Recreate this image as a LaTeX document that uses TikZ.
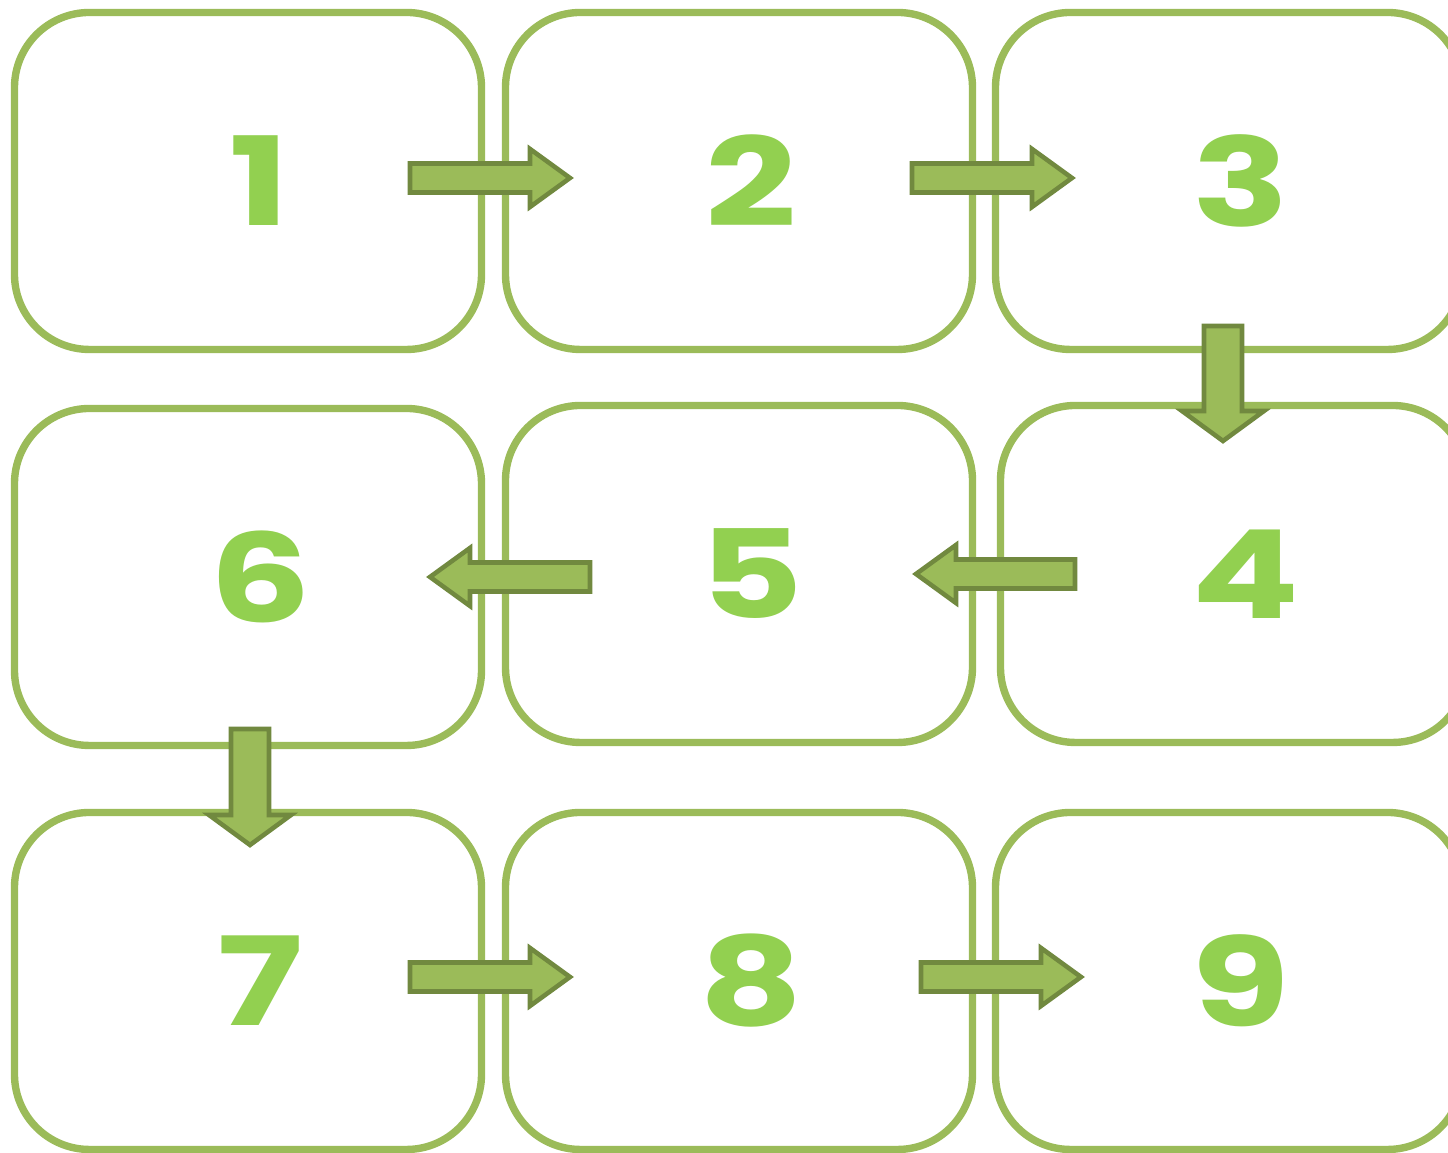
\documentclass[tikz,border=0pt]{standalone}
\usepackage{fontspec}
\setmainfont{Poppins}
\usepackage{tikz}
\usetikzlibrary{positioning, calc}

\definecolor{boxgreen}{HTML}{9BBB59}
\definecolor{arrowedge}{HTML}{71893F}
\definecolor{numgreen}{HTML}{92D050}

\tikzset{
  stepbox/.style={rectangle, draw=boxgreen, line width=2.1pt, rounded corners=0.75cm,
    minimum width=4.67cm, minimum height=3.37cm, outer sep=0pt, fill=white,
    font=\fontsize{35}{38}\selectfont\bfseries, text=numgreen},
  flow/.style={fill=boxgreen, draw=arrowedge, line width=1.3pt, line join=miter}
}

\newcommand{\stepnum}[1]{\hspace{0.24cm}\scalebox{1.3}[1]{#1}}

% block arrow: shaft half width, head half width, head length, from, to
\newcommand{\flowarrow}[5]{%
  \coordinate (hb) at ($(#5)!#3!(#4)$);
  \draw[flow] ($(#4)!#1!90:(#5)$) -- ($(hb)!#1!90:(#5)$) -- ($(hb)!#2!90:(#5)$)
    -- (#5) -- ($(hb)!#2!-90:(#5)$) -- ($(hb)!#1!-90:(#5)$) -- ($(#4)!#1!-90:(#5)$) -- cycle;}

\begin{document}
\begin{tikzpicture}[node distance=0.24cm]

\useasboundingbox (0,0) rectangle (14.48,11.53);
\clip (0,0) rectangle (14.48,11.53);

% Define nodes
\node[stepbox] (b1) at (2.48,9.72) {\stepnum{1}};
\node[stepbox, right=0.24cm of b1] (b2) {\stepnum{2}};
\node[stepbox, right=0.23cm of b2] (b3) {\stepnum{3}};

\node[stepbox, below=0.59cm of b1] (b6) {\stepnum{6}};
\node[stepbox, below=0.56cm of b2] (b5) {\stepnum{5}};
\node[stepbox, below=0.56cm of b3, xshift=0.05cm] (b4) {\stepnum{4}};

\node[stepbox, below=0.67cm of b6] (b7) {\stepnum{7}};
\node[stepbox, below=0.70cm of b5] (b8) {\stepnum{8}};
\node[stepbox, below=0.70cm of b4, xshift=-0.05cm] (b9) {\stepnum{9}};

% Arrow ends
\coordinate (a12s) at (4.10,9.75);  \coordinate (a12e) at (5.70,9.75);
\coordinate (a23s) at (9.12,9.75);  \coordinate (a23e) at (10.72,9.75);
\coordinate (a34s) at (12.23,8.27); \coordinate (a34e) at (12.23,7.12);
\coordinate (a45s) at (10.75,5.79); \coordinate (a45e) at (9.16,5.79);
\coordinate (a56s) at (5.90,5.76);  \coordinate (a56e) at (4.30,5.76);
\coordinate (a67s) at (2.50,4.24);  \coordinate (a67e) at (2.50,3.08);
\coordinate (a78s) at (4.10,1.76);  \coordinate (a78e) at (5.70,1.76);
\coordinate (a89s) at (9.21,1.76);  \coordinate (a89e) at (10.81,1.76);

% Draw the block arrows
\flowarrow{0.145cm}{0.29cm}{0.4cm}{a12s}{a12e}
\flowarrow{0.145cm}{0.29cm}{0.4cm}{a23s}{a23e}
\flowarrow{0.19cm}{0.41cm}{0.3cm}{a34s}{a34e}
\flowarrow{0.145cm}{0.29cm}{0.4cm}{a45s}{a45e}
\flowarrow{0.145cm}{0.29cm}{0.4cm}{a56s}{a56e}
\flowarrow{0.19cm}{0.41cm}{0.3cm}{a67s}{a67e}
\flowarrow{0.145cm}{0.29cm}{0.4cm}{a78s}{a78e}
\flowarrow{0.145cm}{0.29cm}{0.4cm}{a89s}{a89e}

\end{tikzpicture}
\end{document}
